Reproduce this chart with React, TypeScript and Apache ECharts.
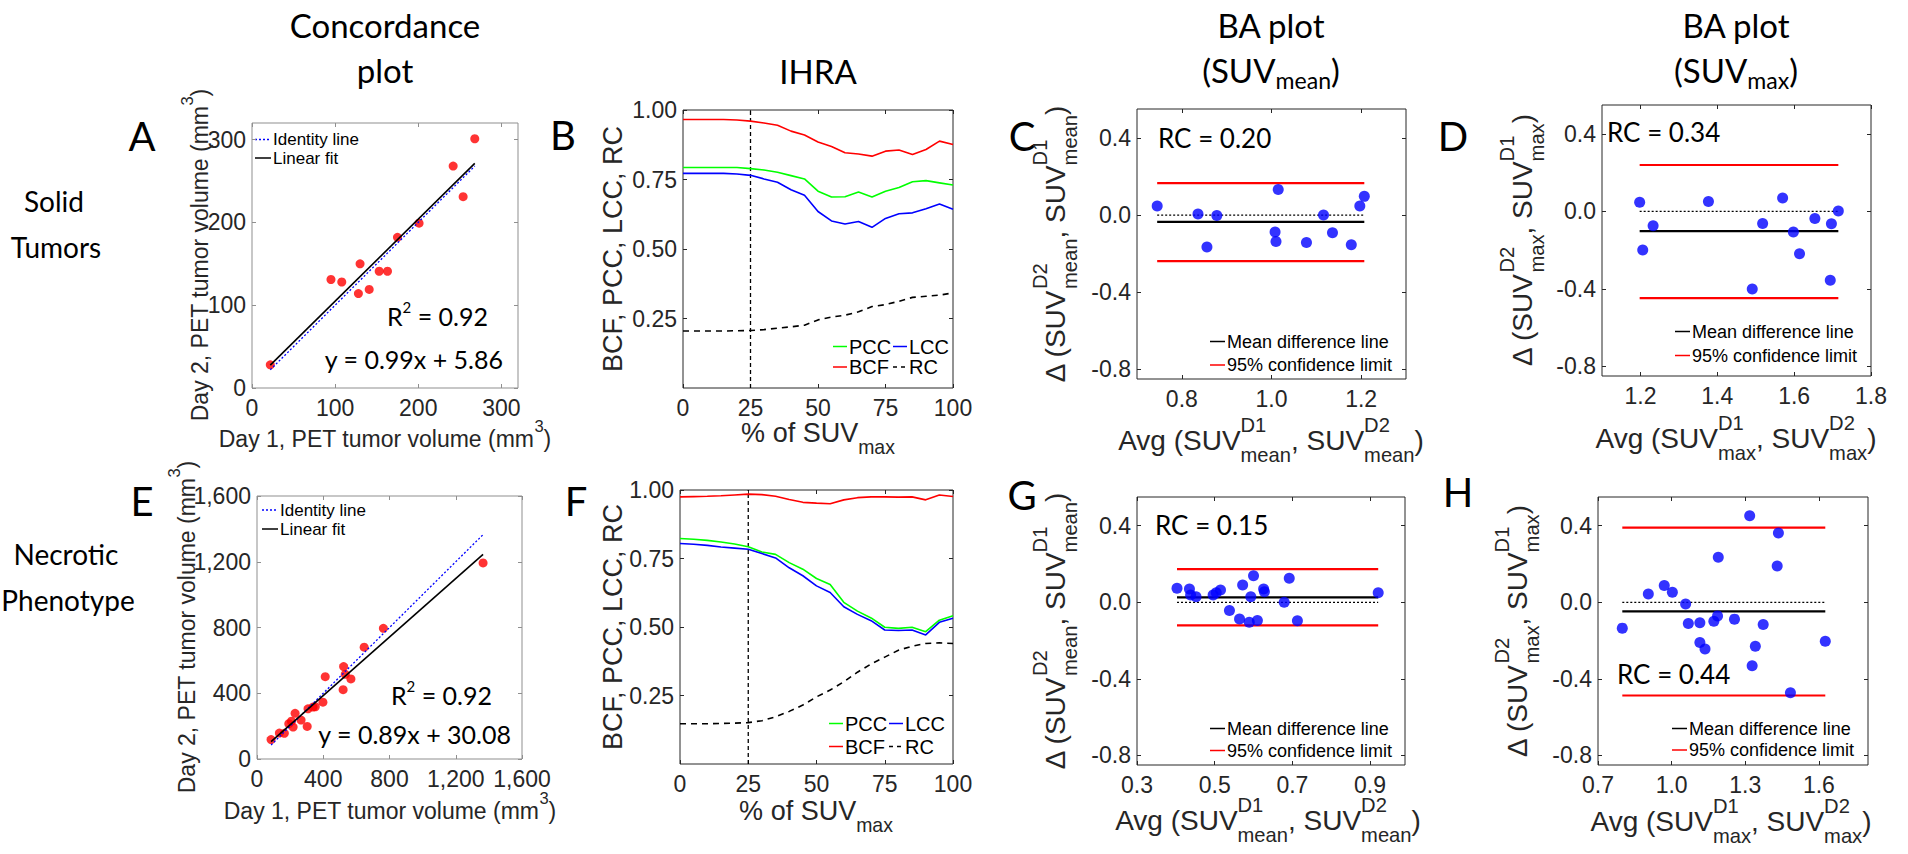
import React, { useEffect, useRef } from 'react';
import * as echarts from 'echarts';

// ================= DATA =================
// A: Solid tumors, concordance of PET tumor volume (mm^3)
const A_DAY1 = [22, 95, 108, 130, 128, 141, 153, 163, 175, 201, 242, 254, 268];
const A_DAY2 = [28, 131, 128, 150, 114, 119, 141, 141, 182, 199, 268, 231, 301];
const A_SLOPE = 0.99;
const A_INTERCEPT = 5.86;
const A_R2 = '0.92';

// E: Necrotic phenotype, concordance
const E_DAY1 = [85, 135, 165, 192, 208, 218, 230, 266, 303, 308, 338, 352, 398, 412, 520, 523, 533, 567, 647, 763, 1365];
const E_DAY2 = [118, 158, 156, 215, 230, 194, 278, 237, 198, 305, 316, 318, 346, 501, 422, 562, 515, 487, 680, 795, 1193];
const E_SLOPE = 0.89;
const E_INTERCEPT = 30.08;
const E_R2 = '0.92';

// B / F: IHRA curves vs % of SUVmax
const PCT_SUVMAX = [0, 5, 10, 15, 20, 25, 30, 35, 40, 45, 50, 55, 60, 65, 70, 75, 80, 85, 90, 95, 100];
const IHRA_CUTOFF = 25;
const B_PCC = [0.793, 0.793, 0.793, 0.793, 0.793, 0.789, 0.784, 0.776, 0.764, 0.752, 0.708, 0.687, 0.688, 0.705, 0.687, 0.708, 0.721, 0.742, 0.746, 0.738, 0.73];
const B_LCC = [0.772, 0.772, 0.772, 0.772, 0.77, 0.765, 0.752, 0.74, 0.713, 0.693, 0.635, 0.601, 0.59, 0.599, 0.578, 0.61, 0.627, 0.63, 0.645, 0.662, 0.643];
const B_BCF = [0.966, 0.966, 0.966, 0.966, 0.964, 0.96, 0.953, 0.945, 0.924, 0.91, 0.885, 0.869, 0.846, 0.842, 0.834, 0.852, 0.856, 0.84, 0.858, 0.888, 0.876];
const B_RC = [0.205, 0.205, 0.205, 0.205, 0.206, 0.207, 0.21, 0.215, 0.22, 0.226, 0.245, 0.255, 0.262, 0.274, 0.293, 0.3, 0.312, 0.326, 0.33, 0.334, 0.342];
const F_PCC = [0.823, 0.82, 0.816, 0.81, 0.803, 0.793, 0.774, 0.765, 0.735, 0.711, 0.677, 0.655, 0.59, 0.558, 0.533, 0.499, 0.495, 0.499, 0.483, 0.525, 0.541];
const F_LCC = [0.805, 0.802, 0.798, 0.792, 0.788, 0.784, 0.768, 0.752, 0.716, 0.687, 0.65, 0.626, 0.574, 0.546, 0.523, 0.489, 0.487, 0.489, 0.471, 0.517, 0.532];
const F_BCF = [0.975, 0.976, 0.977, 0.979, 0.982, 0.985, 0.983, 0.977, 0.965, 0.955, 0.952, 0.95, 0.964, 0.972, 0.975, 0.975, 0.974, 0.975, 0.964, 0.982, 0.976];
const F_RC = [0.147, 0.147, 0.147, 0.148, 0.149, 0.151, 0.158, 0.172, 0.192, 0.215, 0.245, 0.27, 0.3, 0.335, 0.365, 0.39, 0.415, 0.43, 0.44, 0.442, 0.44];

// C: BA plot SUVmean, solid tumors
const C_AVG = [0.745, 0.836, 0.856, 0.878, 1.008, 1.01, 1.015, 1.078, 1.116, 1.136, 1.178, 1.197, 1.207];
const C_DIFF = [0.047, 0.005, -0.165, -0.002, -0.088, -0.137, 0.133, -0.142, 0.0, -0.092, -0.154, 0.047, 0.097];
const C_MEAN = -0.035, C_UPPER = 0.166, C_LOWER = -0.239, C_RC = '0.20';
// D: BA plot SUVmax, solid tumors
const D_AVG = [1.198, 1.206, 1.233, 1.377, 1.491, 1.518, 1.57, 1.598, 1.614, 1.654, 1.694, 1.697, 1.715];
const D_DIFF = [0.048, -0.199, -0.074, 0.052, -0.4, -0.062, 0.069, -0.106, -0.218, -0.036, -0.355, -0.064, 0.002];
const D_MEAN = -0.102, D_UPPER = 0.24, D_LOWER = -0.448, D_RC = '0.34';
// G: BA plot SUVmean, necrotic
const G_AVG = [0.403, 0.435, 0.438, 0.452, 0.496, 0.504, 0.515, 0.538, 0.564, 0.572, 0.589, 0.593, 0.6, 0.61, 0.626, 0.628, 0.679, 0.692, 0.713, 0.921];
const G_DIFF = [0.073, 0.069, 0.038, 0.029, 0.038, 0.05, 0.064, -0.043, -0.087, 0.09, -0.104, 0.029, 0.139, -0.095, 0.069, 0.055, 0.0, 0.125, -0.097, 0.05];
const G_MEAN = 0.026, G_UPPER = 0.173, G_LOWER = -0.121, G_RC = '0.15';
// H: BA plot SUVmax, necrotic
const H_AVG = [0.799, 0.905, 0.97, 1.003, 1.057, 1.068, 1.115, 1.115, 1.136, 1.172, 1.187, 1.19, 1.256, 1.318, 1.328, 1.341, 1.373, 1.43, 1.435, 1.484, 1.626];
const H_DIFF = [-0.135, 0.043, 0.088, 0.052, -0.009, -0.111, -0.107, -0.21, -0.244, -0.099, -0.071, 0.235, -0.088, 0.452, -0.331, -0.23, -0.116, 0.189, 0.362, -0.473, -0.203];
const H_MEAN = -0.048, H_UPPER = 0.39, H_LOWER = -0.487, H_RC = '0.44';

// tick labels
const A_TICKS = [0, 100, 200, 300];
const E_TICKS = [0, 400, 800, 1200, 1600];
const IHRA_X_TICKS = [0, 25, 50, 75, 100];
const IHRA_Y_TICKS = [0.25, 0.5, 0.75, 1.0];
const BA_Y_TICKS = [-0.8, -0.4, 0.0, 0.4];
const C_X_TICKS = [0.8, 1.0, 1.2];
const D_X_TICKS = [1.2, 1.4, 1.6, 1.8];
const G_X_TICKS = [0.3, 0.5, 0.7, 0.9];
const H_X_TICKS = [0.7, 1.0, 1.3, 1.6];

// ================= STYLE / LAYOUT =================
const W = 1908, H = 854;
const INK = '#262626';
const BOX_LIGHT = '#8f8f8f';
const SANS = 'Liberation Sans';
const CAL = 'Lato';
const TICK_FS = 23;
const RED = '#ff0000', BLUE = '#0000ff', GREEN = '#00ff00', BLACK = '#000000';

let measureCtx: CanvasRenderingContext2D | null = null;
function measure(text: string, size: number, family: string) {
  if (!measureCtx) measureCtx = document.createElement('canvas').getContext('2d');
  measureCtx!.font = `${size}px "${family}"`;
  return measureCtx!.measureText(text).width;
}

function txt(text: string, x: number, y: number, size: number, family: string, align = 'left', fill = '#000') {
  return {
    type: 'text', x, y, silent: true,
    style: { text, fontSize: size, fontFamily: family, fill, align, verticalAlign: 'middle', textAlign: align, textVerticalAlign: 'middle' },
  };
}

type Piece = string | { sup?: string; sub?: string };
function mixed(pieces: Piece[], o: { x: number; y: number; size: number; family: string; align?: string; rotate?: boolean; fill?: string; scale?: number; supDy?: number; subDy?: number }) {
  const s = o.size, ss = s * (o.scale ?? 0.72), fam = o.family, fill = o.fill ?? '#000';
  const supDy = (o.supDy ?? -0.55) * s, subDy = (o.subDy ?? 0.52) * s;
  const kids: any[] = [];
  let cur = 0;
  for (const p of pieces) {
    if (typeof p === 'string') {
      kids.push(txt(p, cur, 0, s, fam, 'left', fill));
      cur += measure(p, s, fam);
    } else {
      let w = 0;
      if (p.sup) { kids.push(txt(p.sup, cur, supDy, ss, fam, 'left', fill)); w = Math.max(w, measure(p.sup, ss, fam)); }
      if (p.sub) { kids.push(txt(p.sub, cur, subDy, ss, fam, 'left', fill)); w = Math.max(w, measure(p.sub, ss, fam)); }
      cur += w;
    }
  }
  const align = o.align ?? 'center';
  const off = align === 'left' ? 0 : align === 'right' ? -cur : -cur / 2;
  kids.forEach((k) => { k.x += off; });
  return { type: 'group', x: o.x, y: o.y, rotation: o.rotate ? Math.PI / 2 : 0, children: kids, silent: true };
}

// legend entry: short line sample followed by its label
type LegendEntry = { label: string; color: string; dash?: number[] };
function legendItem(x: number, cy: number, e: LegendEntry, fs: number, len = 15) {
  return [
    { type: 'line', silent: true, shape: { x1: x, y1: cy, x2: x + len, y2: cy }, style: { stroke: e.color, lineWidth: 1.5, lineDash: e.dash ?? null } },
    txt(e.label, x + len + 2, cy, fs, SANS, 'left', '#000'),
  ];
}

type Range = { min: number; max: number; ticks: number[]; fmt: (v: number) => string };

const GRIDS: number[][] = [
  [252, 123, 266, 265], // A
  [683, 110, 270, 278], // B
  [1137, 109, 269, 270], // C
  [1602, 105, 269, 271], // D
  [257, 496, 265, 263], // E
  [680, 490, 273, 274], // F
  [1137, 497, 268, 268], // G
  [1598, 497, 270, 268], // H
];
const BOX_COLORS = [BOX_LIGHT, INK, INK, INK, BOX_LIGHT, INK, INK, INK];

function axis(gi: number, r: Range, pos: string, labels: boolean, isX: boolean, tickColor: string) {
  return {
    type: 'value', gridIndex: gi, position: pos, min: r.min, max: r.max,
    axisLine: { show: false, onZero: false },
    splitLine: { show: false },
    axisTick: { show: true, inside: true, length: 4, lineStyle: { color: tickColor, width: 1 }, customValues: r.ticks },
    axisLabel: {
      show: labels, customValues: r.ticks, formatter: (v: number) => r.fmt(Number(v)),
      fontSize: TICK_FS, fontFamily: SANS, color: INK, margin: isX ? 8 : 6, hideOverlap: false,
    },
  };
}

const fmtInt = (v: number) => String(Math.round(v));
const fmtComma = (v: number) => Math.round(v).toLocaleString('en-US');
const fmt1 = (v: number) => { const s = v.toFixed(1); return s === '-0.0' ? '0.0' : s; };
const fmt2 = (v: number) => v.toFixed(2);

const RANGES: [Range, Range][] = [
  [{ min: 0, max: 320, ticks: A_TICKS, fmt: fmtInt }, { min: 0, max: 320, ticks: A_TICKS, fmt: fmtInt }],
  [{ min: 0, max: 100, ticks: IHRA_X_TICKS, fmt: fmtInt }, { min: 0, max: 1, ticks: IHRA_Y_TICKS, fmt: fmt2 }],
  [{ min: 0.7, max: 1.3, ticks: C_X_TICKS, fmt: fmt1 }, { min: -0.85, max: 0.55, ticks: BA_Y_TICKS, fmt: fmt1 }],
  [{ min: 1.1, max: 1.8, ticks: D_X_TICKS, fmt: fmt1 }, { min: -0.85, max: 0.55, ticks: BA_Y_TICKS, fmt: fmt1 }],
  [{ min: 0, max: 1600, ticks: E_TICKS, fmt: fmtComma }, { min: 0, max: 1600, ticks: E_TICKS, fmt: fmtComma }],
  [{ min: 0, max: 100, ticks: IHRA_X_TICKS, fmt: fmtInt }, { min: 0, max: 1, ticks: IHRA_Y_TICKS, fmt: fmt2 }],
  [{ min: 0.3, max: 0.99, ticks: G_X_TICKS, fmt: fmt1 }, { min: -0.85, max: 0.55, ticks: BA_Y_TICKS, fmt: fmt1 }],
  [{ min: 0.7, max: 1.8, ticks: H_X_TICKS, fmt: fmt1 }, { min: -0.85, max: 0.55, ticks: BA_Y_TICKS, fmt: fmt1 }],
];

const DOT = [2, 2];

function concordance(gi: number, xs: number[], ys: number[], slope: number, intercept: number) {
  const lo = Math.min(...xs), hi = Math.max(...xs);
  const ax = { xAxisIndex: 2 * gi, yAxisIndex: 2 * gi };
  return [
    { ...ax, type: 'scatter', data: xs.map((x, i) => [x, ys[i]]), symbolSize: 9, itemStyle: { color: RED }, z: 2 },
    { ...ax, type: 'line', name: 'Identity line', data: [[lo, lo], [hi, hi]], symbol: 'none', lineStyle: { color: BLUE, width: 1.3, type: DOT }, z: 3 },
    { ...ax, type: 'line', name: 'Linear fit', data: [[lo, slope * lo + intercept], [hi, slope * hi + intercept]], symbol: 'none', lineStyle: { color: BLACK, width: 1.6 }, z: 4 },
  ];
}

function ihra(gi: number, pcc: number[], lcc: number[], bcf: number[], rc: number[]) {
  const ax = { xAxisIndex: 2 * gi, yAxisIndex: 2 * gi };
  const mk = (name: string, vals: number[], color: string, type: any = 'solid') => ({
    ...ax, type: 'line', name, data: PCT_SUVMAX.map((x, i) => [x, vals[i]]), symbol: 'none', showSymbol: false,
    lineStyle: { color, width: 1.6, type }, z: 3,
  });
  return [
    { ...ax, type: 'line', data: [[IHRA_CUTOFF, 0], [IHRA_CUTOFF, 1]], symbol: 'none', lineStyle: { color: BLACK, width: 1.3, type: [4, 3] }, z: 2 },
    mk('PCC', pcc, GREEN),
    mk('LCC', lcc, BLUE),
    mk('BCF', bcf, RED),
    mk('RC', rc, BLACK, [6, 5]),
  ];
}

function ba(gi: number, avg: number[], diff: number[], mean: number, up: number, lo: number) {
  const ax = { xAxisIndex: 2 * gi, yAxisIndex: 2 * gi };
  const x0 = Math.min(...avg), x1 = Math.max(...avg);
  return [
    { ...ax, type: 'line', data: [[x0, 0], [x1, 0]], symbol: 'none', lineStyle: { color: BLACK, width: 1.2, type: DOT }, z: 2 },
    { ...ax, type: 'line', name: 'Mean difference line', data: [[x0, mean], [x1, mean]], symbol: 'none', lineStyle: { color: BLACK, width: 2.2 }, z: 3 },
    { ...ax, type: 'line', name: '95% confidence limit', data: [[x0, up], [x1, up]], symbol: 'none', lineStyle: { color: RED, width: 2.2 }, z: 3 },
    { ...ax, type: 'line', name: '95% confidence limit', data: [[x0, lo], [x1, lo]], symbol: 'none', lineStyle: { color: RED, width: 2.2 }, z: 3 },
    { ...ax, type: 'scatter', data: avg.map((x, i) => [x, diff[i]]), symbolSize: 11, itemStyle: { color: BLUE }, z: 5 },
  ];
}

const LEG_CONC: LegendEntry[] = [{ label: 'Identity line', color: BLUE, dash: DOT }, { label: 'Linear fit', color: BLACK }];
const LEG_IHRA: LegendEntry[] = [
  { label: 'PCC', color: GREEN }, { label: 'LCC', color: BLUE },
  { label: 'BCF', color: RED }, { label: 'RC', color: BLACK, dash: [4, 4] },
];
const LEG_BA: LegendEntry[] = [{ label: 'Mean difference line', color: BLACK }, { label: '95% confidence limit', color: RED }];

function buildOption() {
  const grid: any[] = [], xAxis: any[] = [], yAxis: any[] = [];
  GRIDS.forEach((g, i) => {
    grid.push({ left: g[0], top: g[1], width: g[2], height: g[3], show: true, borderColor: BOX_COLORS[i], borderWidth: 1, containLabel: false });
    const [rx, ry] = RANGES[i];
    const tc = BOX_COLORS[i];
    xAxis.push(axis(i, rx, 'bottom', true, true, tc), axis(i, rx, 'top', false, true, tc));
    yAxis.push(axis(i, ry, 'left', true, false, tc), axis(i, ry, 'right', false, false, tc));
  });

  const series = [
    ...concordance(0, A_DAY1, A_DAY2, A_SLOPE, A_INTERCEPT),
    ...ihra(1, B_PCC, B_LCC, B_BCF, B_RC),
    ...ba(2, C_AVG, C_DIFF, C_MEAN, C_UPPER, C_LOWER),
    ...ba(3, D_AVG, D_DIFF, D_MEAN, D_UPPER, D_LOWER),
    ...concordance(4, E_DAY1, E_DAY2, E_SLOPE, E_INTERCEPT),
    ...ihra(5, F_PCC, F_LCC, F_BCF, F_RC),
    ...ba(6, G_AVG, G_DIFF, G_MEAN, G_UPPER, G_LOWER),
    ...ba(7, H_AVG, H_DIFF, H_MEAN, H_UPPER, H_LOWER),
  ];

  const g: any[] = [];
  // legends (drawn as line samples + labels)
  const pushAll = (arr: any[]) => arr.forEach((a) => g.push(a));
  pushAll(legendItem(255, 139.5, LEG_CONC[0], 17, 16));
  pushAll(legendItem(255, 158, LEG_CONC[1], 17, 16));
  pushAll(legendItem(262, 510, LEG_CONC[0], 17, 16));
  pushAll(legendItem(262, 529, LEG_CONC[1], 17, 16));
  const ihraLeg = (x: number, y1: number, y2: number) => {
    pushAll(legendItem(x, y1, LEG_IHRA[0], 20, 14));
    pushAll(legendItem(x + 60, y1, LEG_IHRA[1], 20, 14));
    pushAll(legendItem(x, y2, LEG_IHRA[2], 20, 14));
    pushAll(legendItem(x + 60, y2, LEG_IHRA[3], 20, 14));
  };
  ihraLeg(833, 346.5, 367);
  ihraLeg(829, 723.5, 746.5);
  const baLeg = (x: number, y1: number, y2: number) => {
    pushAll(legendItem(x, y1, LEG_BA[0], 18, 15));
    pushAll(legendItem(x, y2, LEG_BA[1], 18, 15));
  };
  baLeg(1210, 341.5, 365);
  baLeg(1675, 331.5, 355.5);
  baLeg(1210, 728.5, 750.5);
  baLeg(1672, 728.5, 750);

  const TT = 33; // column title size
  // column titles
  g.push(txt('Concordance', 385, 25, TT, CAL, 'center'));
  g.push(txt('plot', 385, 70, TT, CAL, 'center'));
  g.push(txt('IHRA', 818, 71, TT, CAL, 'center'));
  g.push(txt('BA plot', 1271, 25, TT, CAL, 'center'));
  g.push(mixed(['(SUV', { sub: 'mean' }, ')'], { x: 1271, y: 70, size: TT, family: CAL, scale: 0.7, subDy: 0.3 }));
  g.push(txt('BA plot', 1736, 25, TT, CAL, 'center'));
  g.push(mixed(['(SUV', { sub: 'max' }, ')'], { x: 1736, y: 70, size: TT, family: CAL, scale: 0.7, subDy: 0.3 }));
  // row labels
  const RL = 28;
  g.push(txt('Solid', 54, 201, RL, CAL, 'center'));
  g.push(txt('Tumors', 56, 247, RL, CAL, 'center'));
  g.push(txt('Necrotic', 66, 554, RL, CAL, 'center'));
  g.push(txt('Phenotype', 68, 600, RL, CAL, 'center'));
  // panel letters
  const LF = 40;
  [['A', 142, 136], ['B', 563, 135], ['C', 1022, 136], ['D', 1453, 136], ['E', 142, 501], ['F', 576, 501], ['G', 1022, 495], ['H', 1458, 492]]
    .forEach(([l, x, y]) => g.push(txt(l as string, x as number, y as number, LF, CAL, 'center')));

  // axis titles
  const volX: Piece[] = ['Day 1, PET tumor volume (mm', { sup: '3' }, ')'];
  const volY: Piece[] = ['Day 2, PET tumor volume (mm', { sup: '3' }, ')'];
  g.push(mixed(volX, { x: 385, y: 439, size: 23, family: SANS, fill: INK }));
  g.push(mixed(volY, { x: 200, y: 255, size: 23, family: SANS, fill: INK, rotate: true }));
  g.push(mixed(volX, { x: 390, y: 811, size: 23, family: SANS, fill: INK }));
  g.push(mixed(volY, { x: 187, y: 627, size: 23, family: SANS, fill: INK, rotate: true }));

  const pctX: Piece[] = ['% of SUV', { sub: 'max' }];
  g.push(mixed(pctX, { x: 818, y: 433, size: 27, family: SANS, fill: INK }));
  g.push(mixed(pctX, { x: 816, y: 811, size: 27, family: SANS, fill: INK }));
  g.push(mixed(['BCF, PCC, LCC, RC'], { x: 613, y: 249, size: 27, family: SANS, fill: INK, rotate: true }));
  g.push(mixed(['BCF, PCC, LCC, RC'], { x: 613, y: 627, size: 27, family: SANS, fill: INK, rotate: true }));

  const avgT = (k: string): Piece[] => ['Avg (SUV', { sup: 'D1', sub: k }, ', SUV', { sup: 'D2', sub: k }, ')'];
  const difT = (k: string): Piece[] => ['\u0394 (SUV', { sup: 'D2', sub: k }, ', SUV', { sup: 'D1', sub: k }, ')'];
  g.push(mixed(avgT('mean'), { x: 1271, y: 440, size: 28, family: SANS, fill: INK }));
  g.push(mixed(avgT('max'), { x: 1736, y: 438, size: 28, family: SANS, fill: INK }));
  g.push(mixed(avgT('mean'), { x: 1268, y: 820, size: 28, family: SANS, fill: INK }));
  g.push(mixed(avgT('max'), { x: 1731, y: 821, size: 28, family: SANS, fill: INK }));
  g.push(mixed(difT('mean'), { x: 1055, y: 244, size: 28, family: SANS, fill: INK, rotate: true }));
  g.push(mixed(difT('max'), { x: 1522, y: 240, size: 28, family: SANS, fill: INK, rotate: true }));
  g.push(mixed(difT('mean'), { x: 1055, y: 631, size: 28, family: SANS, fill: INK, rotate: true }));
  g.push(mixed(difT('max'), { x: 1517, y: 631, size: 28, family: SANS, fill: INK, rotate: true }));

  // annotations
  const AF = 25;
  g.push(mixed(['R', { sup: '2' }, ` = ${A_R2}`], { x: 488, y: 316, size: AF, family: CAL, align: 'right', scale: 0.6, supDy: -0.35 }));
  g.push(txt(`y = ${A_SLOPE}x + ${A_INTERCEPT}`, 503, 359, AF, CAL, 'right'));
  g.push(mixed(['R', { sup: '2' }, ` = ${E_R2}`], { x: 492, y: 695, size: AF, family: CAL, align: 'right', scale: 0.6, supDy: -0.35 }));
  g.push(txt(`y = ${E_SLOPE}x + ${E_INTERCEPT}`, 511, 734, AF, CAL, 'right'));
  const RF = 26;
  g.push(txt(`RC = ${C_RC}`, 1158, 137.5, RF, CAL, 'left'));
  g.push(txt(`RC = ${D_RC}`, 1607, 131.5, RF, CAL, 'left'));
  g.push(txt(`RC = ${G_RC}`, 1155, 525, RF, CAL, 'left'));
  g.push(txt(`RC = ${H_RC}`, 1617, 674, RF, CAL, 'left'));

  return {
    animation: false,
    backgroundColor: '#ffffff',
    grid, xAxis, yAxis, series,
    graphic: { elements: g },
  };
}

export default function App() {
  const ref = useRef<HTMLDivElement>(null);
  useEffect(() => {
    const chart = echarts.init(ref.current!, null, { renderer: 'svg' });
    chart.setOption(buildOption() as any);
    return () => chart.dispose();
  }, []);
  return <div ref={ref} style={{ position: 'fixed', left: 0, top: 0, width: W, height: H, background: '#fff' }} />;
}
